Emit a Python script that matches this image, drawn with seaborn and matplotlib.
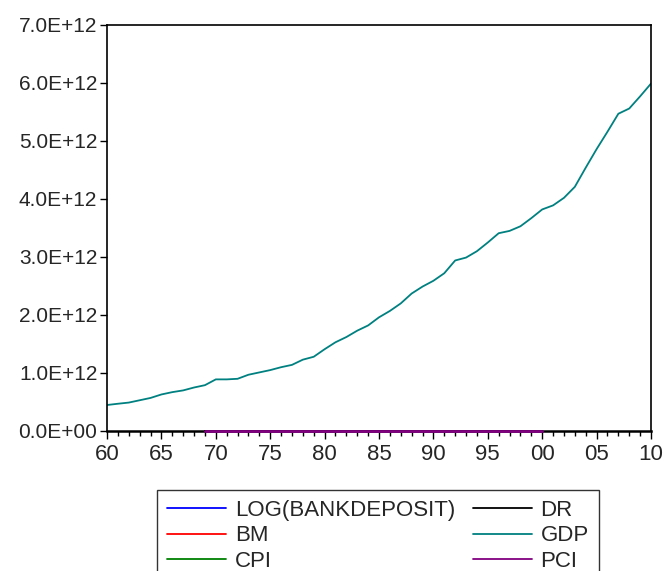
import matplotlib
matplotlib.use("Agg")
import matplotlib.pyplot as plt
from matplotlib.ticker import MultipleLocator, FuncFormatter
import pandas as pd
import seaborn as sns

# annual data, GDP (in 1E+12 units)
years = list(range(1960, 2011))
gdp_e12 = [0.448, 0.47, 0.49, 0.53, 0.57, 0.63, 0.67, 0.70, 0.75, 0.79,
           0.89, 0.89, 0.90, 0.97, 1.01, 1.05, 1.10, 1.14, 1.23, 1.28,
           1.41, 1.53, 1.62, 1.73, 1.82, 1.96, 2.07, 2.20, 2.37, 2.49,
           2.59, 2.72, 2.94, 2.99, 3.10, 3.25, 3.41, 3.45, 3.53, 3.67,
           3.82, 3.89, 4.02, 4.21, 4.54, 4.86, 5.16, 5.47, 5.56, 5.77,
           5.99]

# the other series only cover 1969-2000 and sit on the zero line
years_short = list(range(1969, 2001))
log_bankdeposit = [22.1, 22.3, 22.4, 22.6, 22.8, 22.9, 23.1, 23.3, 23.4, 23.6,
                   23.8, 23.9, 24.1, 24.2, 24.4, 24.5, 24.7, 24.8, 24.9, 25.1,
                   25.2, 25.3, 25.5, 25.6, 25.7, 25.8, 25.9, 26.1, 26.2, 26.3,
                   26.4, 26.5]
bm = [6.1, 6.4, 6.9, 7.3, 7.8, 8.4, 8.9, 9.6, 10.2, 11.0,
      11.9, 12.7, 13.5, 14.6, 15.4, 16.3, 17.5, 18.7, 19.6, 20.8,
      21.9, 22.6, 23.4, 24.5, 25.8, 27.1, 28.9, 30.6, 32.4, 34.3,
      36.1, 37.8]
cpi = [36.7, 38.8, 40.5, 41.8, 44.4, 49.3, 53.8, 56.9, 60.6, 65.2,
       72.6, 82.4, 90.9, 96.5, 99.6, 103.9, 107.6, 109.6, 113.6, 118.3,
       124.0, 130.7, 136.2, 140.3, 144.5, 148.2, 152.4, 156.9, 160.5, 163.0,
       166.6, 172.2]
dr = [6.2, 7.2, 5.0, 4.7, 7.2, 7.9, 6.1, 5.3, 5.6, 7.9,
      11.2, 13.4, 11.0, 8.5, 8.8, 7.7, 6.3, 5.7, 6.7, 8.1,
      7.5, 5.4, 3.4, 3.0, 4.3, 5.9, 5.3, 5.5, 5.4, 5.0,
      5.6, 6.2]
pci = [4800, 5100, 5400, 5800, 6300, 6900, 7400, 8000, 8700, 9600,
       10500, 11500, 12600, 13300, 14200, 15100, 15900, 16800, 17900, 19000,
       19900, 20700, 21100, 22000, 22900, 23800, 24900, 26000, 27300, 28400,
       29800, 31500]

labels = ["LOG(BANKDEPOSIT)", "BM", "CPI", "DR", "GDP", "PCI"]
colors = ["#0000ff", "#ff0000", "#008000", "#000000", "#008080", "#800080"]

frames = []
for name, vals in [("LOG(BANKDEPOSIT)", log_bankdeposit), ("BM", bm),
                   ("CPI", cpi), ("DR", dr), ("PCI", pci)]:
    frames.append(pd.DataFrame({"year": years_short, "value": vals, "series": name}))
frames.append(pd.DataFrame({"year": years, "value": [v * 1e12 for v in gdp_e12],
                            "series": "GDP"}))
df = pd.concat(frames, ignore_index=True)

sns.set_theme(style="white")
plt.rcParams["font.family"] = ["Liberation Sans", "DejaVu Sans"]

fig = plt.figure(figsize=(6.64, 5.71), dpi=100)
ax = fig.add_axes([107 / 664, 1 - 431 / 571, (651 - 107) / 664, (431 - 25) / 571])

for name, col in zip(labels, colors):
    sub = df[df.series == name]
    sns.lineplot(data=sub, x="year", y="value", color=col, lw=1.3, ax=ax,
                 label=name, legend=False)

# PCI shows on top of the bottom frame line in the original
for ln in ax.lines:
    if ln.get_label() == "PCI":
        ln.set_zorder(3)
        ln.set_clip_on(False)
        ln.set_linewidth(2.0)

ax.set_xlim(1960, 2010)
ax.set_ylim(0, 7e12)
ax.set_xlabel("")
ax.set_ylabel("")

ax.xaxis.set_major_locator(MultipleLocator(5))
ax.xaxis.set_minor_locator(MultipleLocator(1))
ax.xaxis.set_major_formatter(FuncFormatter(lambda v, p: f"{int(round(v)) % 100:02d}"))
ax.yaxis.set_major_locator(MultipleLocator(1e12))
ax.yaxis.set_major_formatter(FuncFormatter(lambda v, p: f"{v:.1E}"))

ax.tick_params(axis="x", which="major", direction="out", length=6, width=1,
               labelsize=16, pad=3, bottom=True, top=False, color="black")
ax.tick_params(axis="x", which="minor", direction="out", length=3.5, width=1,
               bottom=True, top=False, color="black")
ax.tick_params(axis="y", which="major", direction="out", length=5, width=1,
               labelsize=15, pad=2, left=True, right=False, color="black")

for side, sp in ax.spines.items():
    sp.set_visible(True)
    sp.set_color("black")
    sp.set_linewidth(1.2)
ax.spines["bottom"].set_linewidth(1.8)

handles = []
for name in labels:
    for ln in ax.lines:
        if ln.get_label() == name:
            handles.append(ln)
leg = fig.legend(handles, labels, loc="upper left",
                 bbox_to_anchor=(157 / 664, 1 - 490 / 571), ncol=2,
                 fontsize=16, frameon=True, fancybox=False, shadow=False,
                 borderaxespad=0, borderpad=0.45, labelspacing=0.2,
                 handlelength=2.65, handletextpad=0.4, columnspacing=0.8)
leg.get_frame().set_edgecolor("black")
leg.get_frame().set_linewidth(1.0)
for h in leg.legend_handles:
    h.set_linewidth(1.3)

fig.savefig("out.png", dpi=100)
